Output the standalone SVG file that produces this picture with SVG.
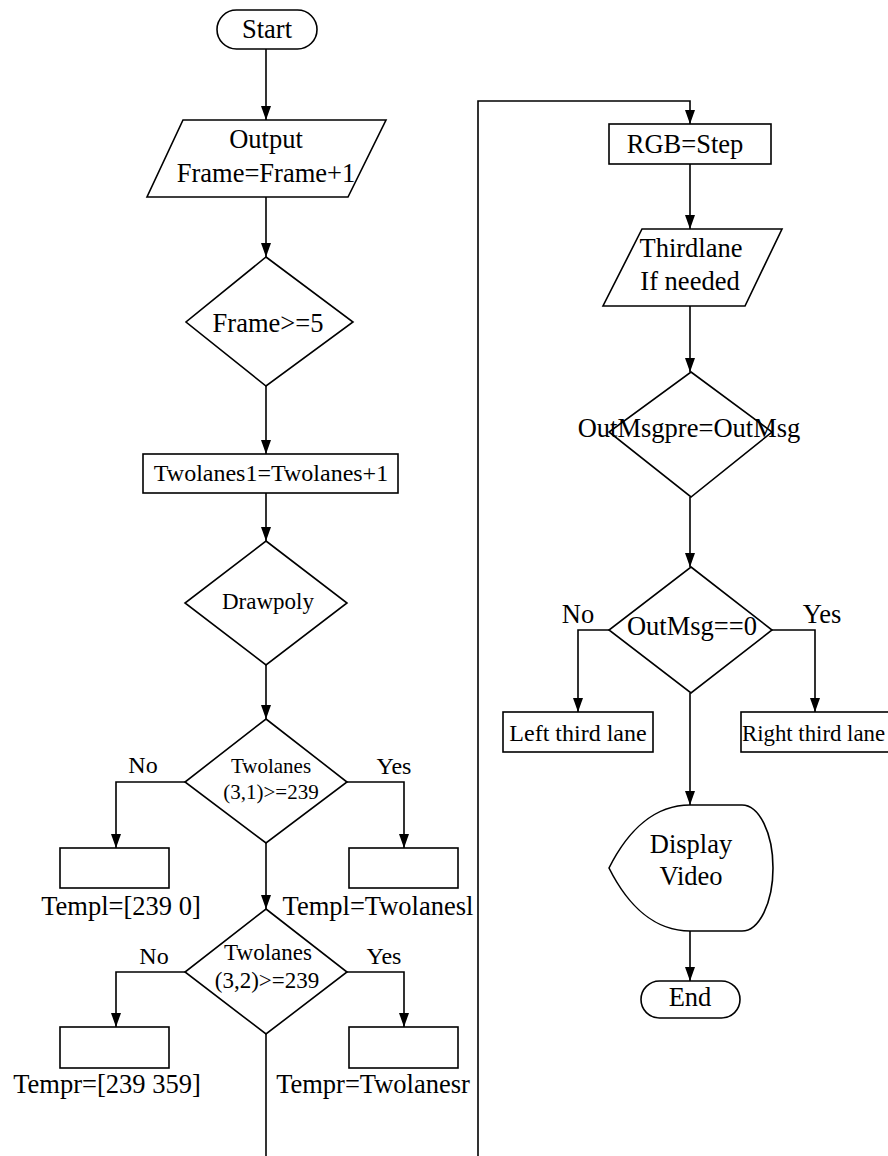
<svg xmlns="http://www.w3.org/2000/svg" width="888" height="1156" viewBox="0 0 888 1156">
<style>
.s{fill:#fff;stroke:#000;stroke-width:1.6}
.c{fill:none;stroke:#000;stroke-width:1.6}
text{font-family:"Liberation Serif","Times New Roman",serif;fill:#000;text-anchor:middle}
.b{font-size:26.5px}
.m{font-size:24px}
.d{font-size:21px}
.e{font-size:23px}
</style>
<defs>
<marker id="ah" markerUnits="userSpaceOnUse" markerWidth="14" markerHeight="10" refX="14" refY="5" orient="auto">
<path d="M0,0 L14,5 L0,10 z" fill="#000"/>
</marker>
</defs>
<rect width="888" height="1156" fill="#fff"/>
<g id="connectors">
<line class="c" x1="266" y1="49" x2="266" y2="120" marker-end="url(#ah)"/>
<line class="c" x1="266" y1="197" x2="266" y2="257" marker-end="url(#ah)"/>
<line class="c" x1="266" y1="386" x2="266" y2="454" marker-end="url(#ah)"/>
<line class="c" x1="266" y1="493" x2="266" y2="541" marker-end="url(#ah)"/>
<line class="c" x1="266" y1="665" x2="266" y2="719" marker-end="url(#ah)"/>
<polyline class="c" points="185,782 116,782 116,848" marker-end="url(#ah)"/>
<polyline class="c" points="347,782 404,782 404,848" marker-end="url(#ah)"/>
<line class="c" x1="266" y1="843" x2="266" y2="909" marker-end="url(#ah)"/>
<polyline class="c" points="185,972 116,972 116,1027" marker-end="url(#ah)"/>
<polyline class="c" points="347,972 404,972 404,1027" marker-end="url(#ah)"/>
<line class="c" x1="266" y1="1034" x2="266" y2="1160"/>
<polyline class="c" points="478,1160 478,101 690,101 690,124" marker-end="url(#ah)"/>
<line class="c" x1="690" y1="164" x2="690" y2="229" marker-end="url(#ah)"/>
<line class="c" x1="690" y1="306" x2="690" y2="372" marker-end="url(#ah)"/>
<line class="c" x1="690" y1="497" x2="690" y2="567" marker-end="url(#ah)"/>
<polyline class="c" points="609,630 578,630 578,712" marker-end="url(#ah)"/>
<polyline class="c" points="772,630 815,630 815,712" marker-end="url(#ah)"/>
<line class="c" x1="690" y1="693" x2="690" y2="805" marker-end="url(#ah)"/>
<line class="c" x1="690" y1="931" x2="690" y2="981" marker-end="url(#ah)"/>
</g>
<g id="start">
<rect class="s" x="217" y="10" width="100" height="39" rx="19.5"/>
<text class="b" x="267" y="38">Start</text>
</g>
<g id="output">
<polygon class="s" points="183,120 386,120 348,197 147,197"/>
<text class="b" x="266" y="148">Output</text>
<text class="b" x="266" y="182">Frame=Frame+1</text>
</g>
<g id="frame-check">
<polygon class="s" points="266,257 353,322 266,386 186,322"/>
<text class="b" x="268" y="332">Frame&gt;=5</text>
</g>
<g id="twolanes1">
<rect class="s" x="143" y="454" width="255" height="39"/>
<text class="m" x="271" y="481">Twolanes1=Twolanes+1</text>
</g>
<g id="drawpoly">
<polygon class="s" points="266,541 347,603 266,665 185,603"/>
<text class="e" x="268" y="609">Drawpoly</text>
</g>
<g id="cond1">
<polygon class="s" points="266,719 347,782 266,843 185,782"/>
<text class="d" x="271" y="773">Twolanes</text>
<text class="d" x="271" y="799">(3,1)&gt;=239</text>
<text class="m" x="143" y="773">No</text>
<text class="m" x="394" y="774">Yes</text>
</g>
<g id="templ-no">
<rect class="s" x="60" y="848" width="109" height="40"/>
<text class="b" x="121" y="915">Templ=[239 0]</text>
</g>
<g id="templ-yes">
<rect class="s" x="349" y="848" width="109" height="40"/>
<text class="b" x="378" y="915">Templ=Twolanesl</text>
</g>
<g id="cond2">
<polygon class="s" points="266,909 347,972 266,1034 185,972"/>
<text class="e" x="268" y="960">Twolanes</text>
<text class="e" x="267" y="988">(3,2)&gt;=239</text>
<text class="m" x="154" y="964">No</text>
<text class="m" x="384" y="964">Yes</text>
</g>
<g id="tempr-no">
<rect class="s" x="60" y="1027" width="109" height="41"/>
<text class="b" x="107" y="1093">Tempr=[239 359]</text>
</g>
<g id="tempr-yes">
<rect class="s" x="349" y="1027" width="109" height="41"/>
<text class="b" x="373" y="1093">Tempr=Twolanesr</text>
</g>
<g id="rgb">
<rect class="s" x="609" y="124" width="162" height="40"/>
<text class="b" x="685" y="153">RGB=Step</text>
</g>
<g id="thirdlane">
<polygon class="s" points="642,229 782,229 745,306 603,306"/>
<text class="b" x="691" y="257">Thirdlane</text>
<text class="b" x="690" y="290">If needed</text>
</g>
<g id="outmsgpre">
<polygon class="s" points="691,372 772,432 691,497 609,432"/>
<text class="b" x="689" y="437">OutMsgpre=OutMsg</text>
</g>
<g id="outmsg">
<polygon class="s" points="691,567 772,630 691,693 609,630"/>
<text class="b" x="692" y="635">OutMsg==0</text>
<text class="b" x="578" y="623">No</text>
<text class="b" x="822" y="623">Yes</text>
</g>
<g id="left-third">
<rect class="s" x="503" y="712" width="150" height="40"/>
<text class="m" x="578" y="741">Left third lane</text>
</g>
<g id="right-third">
<rect class="s" x="741" y="712" width="155" height="40"/>
<text x="742" y="741" style="font-size:22.8px;text-anchor:start">Right third lane</text>
</g>
<g id="display">
<path class="s" d="M609,868 C628,830 655,805 690,805 L742,805 A31,63 0 0 1 742,931 L690,931 C655,931 628,906 609,868 Z"/>
<text class="b" x="691" y="853">Display</text>
<text class="b" x="691" y="885">Video</text>
</g>
<g id="end">
<rect class="s" x="641" y="981" width="99" height="37" rx="18.5"/>
<text class="b" x="690" y="1006">End</text>
</g>
</svg>
